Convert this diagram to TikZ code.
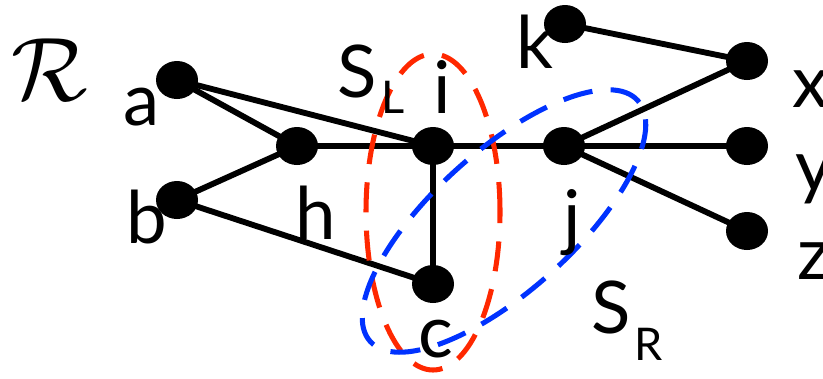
\documentclass[tikz,border=0pt]{standalone}
\usepackage{fontspec}
\setmainfont{Lato}
\usetikzlibrary{shapes.geometric}

\definecolor{sepred}{RGB}{255,40,0}
\definecolor{sepblue}{RGB}{0,50,255}

\tikzset{
  vertex/.style={ellipse,fill=black,minimum width=12.6mm,minimum height=11.4mm,inner sep=0pt},
  edge/.style={line width=5pt},
  lbl/.style={inner sep=0pt,font=\fontsize{62}{70}\selectfont},
  sep/.style={line width=4.3pt,dash pattern=on 9mm off 5.5mm}
}
\newcommand\subl[1]{\scalebox{0.62}{#1}}

\begin{document}
\begin{tikzpicture}[x=0.3mm,y=-0.3mm]
\useasboundingbox (0,0) rectangle (823,378);

% vertices
\node[vertex] (a) at (177,80) {};
\node[vertex] (b) at (177,200) {};
\node[vertex] (h) at (297,146) {};
\node[vertex] (i) at (433,146) {};
\node[vertex] (c) at (433,284) {};
\node[vertex] (j) at (564,146) {};
\node[vertex] (k) at (565,24) {};
\node[vertex] (x) at (747,61) {};
\node[vertex] (y) at (747,146) {};
\node[vertex] (z) at (747,231) {};

% edges
\draw[edge] (a.center) -- (h.center);
\draw[edge] (a.center) -- (i.center);
\draw[edge] (b.center) -- (h.center);
\draw[edge] (b.center) -- (c.center);
\draw[edge] (h.center) -- (i.center);
\draw[edge] (i.center) -- (j.center);
\draw[edge] (i.center) -- (c.center);
\draw[edge] (j.center) -- (x.center);
\draw[edge] (j.center) -- (y.center);
\draw[edge] (j.center) -- (z.center);
\draw[edge] (k.center) -- (x.center);

% separators
\draw[sep,sepred] (433,212) ellipse [x radius=2.01cm, y radius=4.74cm];
\draw[sep,sepblue,rotate around={42:(504,221)}] (504,221) ellipse [x radius=5.4cm, y radius=2.1cm];

% labels
\node[inner sep=0pt] (R) at (50,70) {\scalebox{7.7}{$\mathcal{R}$}};
\node[lbl] (la) at (142,107) {a};
\node[lbl] (lb) at (147,217) {b};
\node[lbl] (lh) at (316,213) {h};
\node[lbl] (li) at (442,87) {i};
\node[lbl] (lk) at (535,42) {k};
\node[lbl] (lj) at (572,223) {j};
\node[lbl] (lc) at (436,339) {c};
\node[lbl,anchor=west] (lx) at (792,89) {x};
\node[lbl,anchor=west] (ly) at (795,179) {y};
\node[lbl,anchor=west] (lz) at (797,261) {z};
\node[lbl,anchor=base west] (sl) at (337,97) {S\hspace{1.5mm}\raisebox{-4.8mm}{\subl{L}}};
\node[lbl,anchor=base west] (sr) at (591,333) {S\hspace{1.2mm}\raisebox{-8.1mm}{\subl{R}}};
\end{tikzpicture}
\end{document}
